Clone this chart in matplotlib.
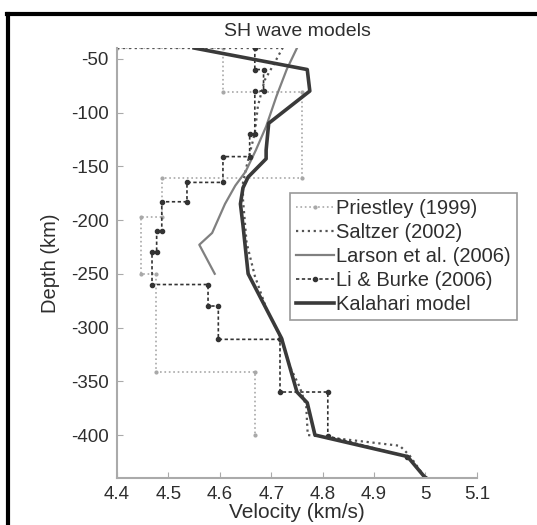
import matplotlib.pyplot as plt
from matplotlib.lines import Line2D

plt.rcParams["font.family"] = ["Liberation Sans", "DejaVu Sans"]
plt.rcParams["axes.unicode_minus"] = False

# --- velocity models (velocity km/s, depth km) ---
priestley_v = [4.4, 4.606, 4.606, 4.76, 4.76, 4.487, 4.487, 4.447, 4.447, 4.475, 4.475, 4.668, 4.668]
priestley_d = [-40, -40, -81, -81, -161, -161, -197, -197, -250, -250, -341, -341, -400]

saltzer_v = [4.4, 4.722, 4.705, 4.687, 4.674, 4.668, 4.652, 4.645, 4.645, 4.652, 4.668, 4.691,
             4.72, 4.736, 4.755, 4.768, 4.771, 4.95, 4.969, 5.0]
saltzer_d = [-40, -40, -55, -70, -94, -119, -150, -165, -181, -221, -252, -283,
             -311, -336, -355, -373, -400, -410, -419, -440]

larson_v = [4.75, 4.73, 4.71, 4.69, 4.67, 4.65, 4.63, 4.61, 4.585, 4.56, 4.59]
larson_d = [-40, -60, -85, -113, -135, -155, -168, -185, -212, -223, -250]

liburke_v = [4.668, 4.668, 4.685, 4.685, 4.668, 4.668, 4.658, 4.658, 4.606, 4.606, 4.536, 4.536,
             4.487, 4.487, 4.477, 4.477, 4.468, 4.468, 4.577, 4.577, 4.597, 4.597, 4.717, 4.717,
             4.81, 4.81, 4.965, 5.0]
liburke_d = [-40, -60, -60, -80, -80, -120, -120, -141, -141, -165, -165, -183,
             -183, -210, -210, -230, -230, -260, -260, -280, -280, -311, -311, -360,
             -360, -401, -420, -440]

kalahari_v = [4.55, 4.77, 4.775, 4.695, 4.69, 4.69, 4.655, 4.645, 4.64, 4.645, 4.655,
              4.72, 4.75, 4.77, 4.785, 4.965, 5.0]
kalahari_d = [-40, -60, -80, -110, -135, -143, -160, -170, -185, -205, -250,
              -310, -360, -370, -400, -420, -440]

xticks = [4.4, 4.5, 4.6, 4.7, 4.8, 4.9, 5.0, 5.1]
xticklabels = ["4.4", "4.5", "4.6", "4.7", "4.8", "4.9", "5", "5.1"]
yticks = [-50, -100, -150, -200, -250, -300, -350, -400]

TXT = "#2e2e2e"

fig = plt.figure(figsize=(5.37, 5.25), dpi=100)
ax = fig.add_axes([0.218, 0.0895, 0.67, 0.819])

ax.plot(priestley_v, priestley_d, color="#a8a8a8", ls=":", lw=1.2, marker=".", ms=4,
        label="Priestley (1999)")
ax.plot(saltzer_v, saltzer_d, color="#555555", ls=":", lw=1.6, label="Saltzer (2002)")
ax.plot(larson_v, larson_d, color="#808080", lw=1.6, label="Larson et al. (2006)")
ax.plot(liburke_v, liburke_d, color="#333333", ls="--", lw=1.2, marker=".", ms=6,
        dashes=(2, 1.5), label="Li & Burke (2006)")
ax.plot(kalahari_v, kalahari_d, color="#3a3a3a", lw=2.6, label="Kalahari model")

ax.set_xlim(4.4, 5.1)
ax.set_ylim(-440, -40)
ax.set_xticks(xticks)
ax.set_xticklabels(xticklabels)
ax.set_yticks(yticks)

for side in ["top", "right"]:
    ax.spines[side].set_visible(False)
for side in ["left", "bottom"]:
    ax.spines[side].set_color("#aaaaaa")
    ax.spines[side].set_linewidth(1.5)
ax.tick_params(direction="in", color="#aaaaaa", length=4, labelsize=13.5,
               labelcolor=TXT, pad=6)

ax.set_title("SH wave models", fontsize=14, color=TXT, pad=9)
ax.set_xlabel("Velocity (km/s)", fontsize=15, color=TXT, labelpad=0)
ax.set_ylabel("Depth (km)", fontsize=14.5, color=TXT, labelpad=8)

leg = ax.legend(loc="upper left", bbox_to_anchor=(0.48, 0.663), borderaxespad=0,
                fontsize=14.5, fancybox=False, handlelength=1.9, handletextpad=0.1,
                labelspacing=0.25, borderpad=0.3, framealpha=1)
leg.get_frame().set_edgecolor("#999999")
leg.get_frame().set_linewidth(1.2)
for t in leg.get_texts():
    t.set_color(TXT)

# black frame on top and left of the picture
fig.add_artist(Line2D([7 / 537, 1], [1 - 14 / 525, 1 - 14 / 525], color="black", lw=3))
fig.add_artist(Line2D([8 / 537, 8 / 537], [0, 1 - 14 / 525], color="black", lw=3))

fig.savefig("out.png", dpi=100)
